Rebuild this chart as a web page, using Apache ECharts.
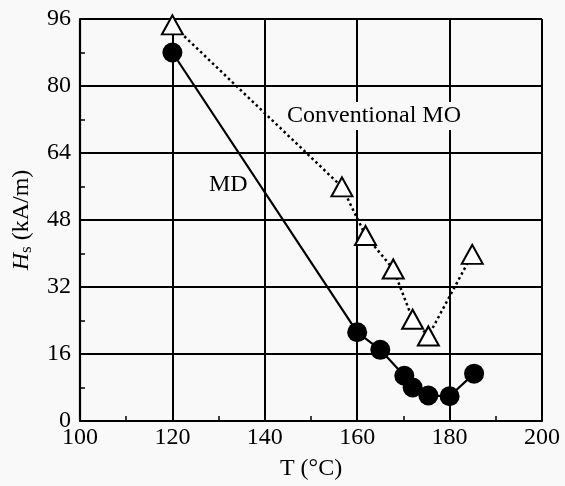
<!DOCTYPE html>
<html>
<head>
<meta charset="utf-8">
<script src="https://cdn.jsdelivr.net/npm/echarts@6/dist/echarts.min.js"></script>
<style>html,body{margin:0;padding:0;background:#f9f9f9}#c{width:565px;height:486px}</style>
</head>
<body>
<div id="c"></div>
<script>
var mdT = [120, 160, 165, 170.2, 172, 175.4, 180, 185.3];
var mdH = [88, 21.2, 17.0, 10.8, 8.0, 6.1, 5.9, 11.3];
var moT = [120, 156.7, 161.8, 167.8, 172.0, 175.4, 184.9];
var moH = [94.6, 55.9, 44.3, 36.3, 24.3, 20.3, 39.8];
var xTicks = [100, 120, 140, 160, 180, 200];
var yTicks = [0, 16, 32, 48, 64, 80, 96];

var font = '"Liberation Serif", "Times New Roman", serif';
function pairs(a, b) { return a.map(function (v, i) { return [v, b[i]]; }); }

var chart = echarts.init(document.getElementById('c'), null, {renderer: 'canvas'});
chart.setOption({
  backgroundColor: '#f9f9f9',
  animation: false,
  grid: {left: 80, right: 23, top: 19, bottom: 61},
  xAxis: {
    type: 'value', min: xTicks[0], max: xTicks[xTicks.length - 1], interval: 20,
    name: 'T (°C)', nameLocation: 'middle', nameGap: 36,
    nameTextStyle: {fontFamily: font, fontSize: 24, color: '#000'},
    axisLine: {show: true, lineStyle: {color: '#000', width: 2.2}},
    axisTick: {show: true, inside: true, length: 5, lineStyle: {color: '#000', width: 1.5}},
    minorTick: {show: true, splitNumber: 2, length: 5, lineStyle: {color: '#000', width: 1.5}},
    splitLine: {show: true, lineStyle: {color: '#000', width: 2}},
    axisLabel: {fontFamily: font, fontSize: 24, color: '#000', margin: 5}
  },
  yAxis: {
    type: 'value', min: yTicks[0], max: yTicks[yTicks.length - 1], interval: 16,
    name: '{i|H}{s|s} (kA/m)', nameLocation: 'middle', nameGap: 45,
    nameTextStyle: {fontFamily: font, fontSize: 24, color: '#000',
      rich: {
        i: {fontFamily: font, fontSize: 24, fontStyle: 'italic', color: '#000'},
        s: {fontFamily: font, fontSize: 17, color: '#000', verticalAlign: 'bottom', padding: [9, 0, 0, 0]}
      }
    },
    axisLine: {show: true, lineStyle: {color: '#000', width: 2.2}},
    axisTick: {show: true, inside: true, length: 5, lineStyle: {color: '#000', width: 1.5}},
    minorTick: {show: true, splitNumber: 2, length: 5, lineStyle: {color: '#000', width: 1.5}},
    splitLine: {show: true, lineStyle: {color: '#000', width: 2}},
    axisLabel: {fontFamily: font, fontSize: 24, color: '#000', margin: 9}
  },
  series: [
    {
      name: 'Conventional MO', type: 'line', data: pairs(moT, moH),
      symbol: 'triangle', symbolSize: [21, 19], showAllSymbol: true,
      lineStyle: {color: '#000', width: 2.5, type: [2.5, 3]},
      itemStyle: {color: '#fff', borderColor: '#000', borderWidth: 2},
      z: 3
    },
    {
      name: 'MD', type: 'line', data: pairs(mdT, mdH),
      symbol: 'circle', symbolSize: 20, showAllSymbol: true,
      lineStyle: {color: '#000', width: 2.2},
      itemStyle: {color: '#000', borderColor: '#000', borderWidth: 0},
      z: 4
    }
  ],
  graphic: [
    {type: 'text', left: 282, top: 102, z: 100,
      style: {text: 'Conventional MO', fontFamily: font, fontSize: 24, fill: '#000',
        backgroundColor: '#f9f9f9', padding: [2, 5, 2, 5]}},
    {type: 'text', left: 209, top: 173, z: 100,
      style: {text: 'MD', fontFamily: font, fontSize: 24, fill: '#000'}}
  ]
});
</script>
</body>
</html>
